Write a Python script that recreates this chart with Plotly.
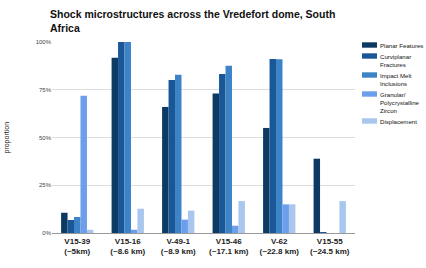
import plotly.graph_objects as go

categories = ["V15-39<br>(~5km)", "V15-16<br>(~8.6 km)", "V-49-1<br>(~8.9 km)",
              "V15-46<br>(~17.1 km)", "V-62<br>(~22.8 km)", "V15-55<br>(~24.5 km)"]
series_names = ["Planar Features", "Curviplanar<br>Fractures", "Impact Melt<br>Inclusions",
                "Granular/<br>Polycrystalline<br>Zircon", "Displacement"]
planar = [0.106, 0.918, 0.66, 0.731, 0.55, 0.389]
curviplanar = [0.068, 1.0, 0.801, 0.832, 0.911, 0.004]
impact = [0.084, 1.0, 0.829, 0.876, 0.91, 0.0]
granular = [0.719, 0.017, 0.07, 0.038, 0.15, 0.0]
displacement = [0.017, 0.127, 0.117, 0.167, 0.15, 0.167]
colors = ["#0c3a63", "#1a5796", "#3d83c8", "#6d9eeb", "#a8c6ee"]
y_ticks = [0, 0.25, 0.5, 0.75, 1.0]
y_ticklabels = ["0%", "25%", "50%", "75%", "100%"]

W, H = 426, 268
ML, MR, MT, MB = 52, 71, 42, 35

fig = go.Figure()
for name, vals, col in zip(series_names, [planar, curviplanar, impact, granular, displacement], colors):
    fig.add_trace(go.Bar(x=categories, y=vals, name=name, showlegend=False,
                         marker=dict(color=col, line=dict(width=0))))

# manual compact legend (paper coordinates)
pw, ph = W - ML - MR, H - MT - MB
def px_x(p):
    return (p - ML) / pw
def px_y(p):
    return 1 - (p - MT) / ph

line_h = 8.0
y_cur = 45.0
gap = 3.0
for name, col in zip(series_names, colors):
    nlines = name.count("<br>") + 1
    fig.add_shape(type="rect", xref="paper", yref="paper",
                  x0=px_x(362), x1=px_x(377), y0=px_y(y_cur - 2.7), y1=px_y(y_cur + 2.7),
                  fillcolor=col, line=dict(width=0))
    fig.add_annotation(xref="paper", yref="paper", x=px_x(379), y=px_y(y_cur - 4.4),
                       xanchor="left", yanchor="top", align="left", showarrow=False,
                       text=name, borderpad=0,
                       font=dict(family="Liberation Sans", size=6.1, color="#111111"))
    y_cur += nlines * line_h + gap

fig.add_annotation(xref="paper", yref="paper", x=px_x(0), y=0.5, xanchor="left", yanchor="middle",
                   textangle=-90, showarrow=False, text="proportion",
                   font=dict(size=7, color="#222222"))

fig.update_layout(
    width=W, height=H,
    margin=dict(l=ML, r=MR, t=MT, b=MB),
    paper_bgcolor="white", plot_bgcolor="white",
    barmode="group", bargap=0.36, bargroupgap=0.0,
    font=dict(family="Liberation Sans, Arial", color="#222222"),
    title=dict(text="Shock microstructures across the Vredefort dome, South<br>Africa",
               x=50/W, xanchor="left", y=1 - 18/H, yanchor="top",
               font=dict(size=10.5, weight="bold", color="#111111")),
    showlegend=False,
)
fig.update_xaxes(showgrid=False, showline=True, linecolor="#999999", linewidth=1,
                 tickangle=0, tickfont=dict(size=8, weight="bold", color="#222222"), ticks="")
fig.update_yaxes(range=[0, 1.0], tickvals=y_ticks, ticktext=y_ticklabels,
                 showgrid=True, gridcolor="#dddddd", gridwidth=1, zeroline=False,
                 tickfont=dict(size=6, color="#444444"), ticks="")
fig.write_html("out.html")
